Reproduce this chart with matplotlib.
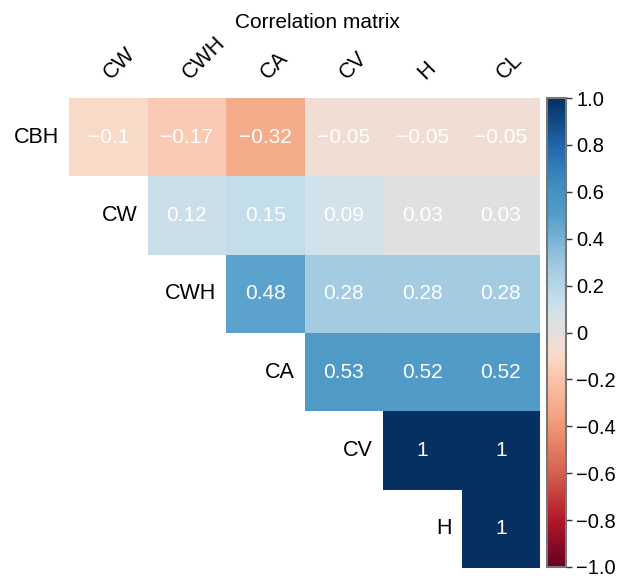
import numpy as np
import matplotlib
matplotlib.use("Agg")
import matplotlib.pyplot as plt
from matplotlib.colors import LinearSegmentedColormap, Normalize
from matplotlib import transforms

plt.rcParams['font.family'] = ['Liberation Sans', 'DejaVu Sans']

row_labels = ["CBH", "CW", "CWH", "CA", "CV", "H"]
col_labels = ["CW", "CWH", "CA", "CV", "H", "CL"]
r_cbh = [-0.1, -0.17, -0.32, -0.05, -0.05, -0.05]
r_cw = [None, 0.12, 0.15, 0.09, 0.03, 0.03]
r_cwh = [None, None, 0.48, 0.28, 0.28, 0.28]
r_ca = [None, None, None, 0.53, 0.52, 0.52]
r_cv = [None, None, None, None, 1, 1]
r_h = [None, None, None, None, None, 1]
rows = [r_cbh, r_cw, r_cwh, r_ca, r_cv, r_h]
cbar_ticks = [-1.0, -0.8, -0.6, -0.4, -0.2, 0, 0.2, 0.4, 0.6, 0.8, 1.0]
cbar_ticklabels = ["\u22121.0", "\u22120.8", "\u22120.6", "\u22120.4", "\u22120.2", "0",
                   "0.2", "0.4", "0.6", "0.8", "1.0"]

# colormap anchors (value, rgb) - RdBu-like with grey centre
anchors = [(-1.0, (103, 0, 31)), (-0.8, (178, 24, 43)), (-0.6, (214, 96, 77)),
           (-0.35, (244, 165, 130)), (-0.17, (250, 202, 180)), (-0.1, (248, 218, 201)),
           (-0.05, (240, 222, 212)), (0.0, (226, 223, 222)), (0.03, (224, 224, 224)),
           (0.09, (210, 226, 234)),
           (0.15, (196, 221, 234)), (0.28, (163, 203, 226)), (0.5, (85, 158, 202)),
           (0.65, (60, 138, 190)), (0.8, (33, 102, 172)), (1.0, (5, 48, 97))]
cmap = LinearSegmentedColormap.from_list(
    "rdbu_grey", [((v + 1) / 2, tuple(c / 255 for c in col)) for v, col in anchors])

data = np.array([[np.nan if v is None else v for v in r] for r in rows], dtype=float)
masked = np.ma.masked_invalid(data)

fig = plt.figure(figsize=(6.26, 5.79), dpi=100)
ax = fig.add_axes([69 / 626, 11 / 579, 471 / 626, 470 / 579])
cax = fig.add_axes([547 / 626, 12 / 579, 19 / 626, 469 / 579])

norm = Normalize(vmin=-1, vmax=1)
mesh = ax.pcolormesh(np.arange(len(col_labels) + 1) - 0.5,
                     np.arange(len(row_labels) + 1) - 0.5,
                     masked, cmap=cmap, norm=norm, shading='flat')
ax.set_xlim(-0.5, len(col_labels) - 0.5)
ax.set_ylim(len(row_labels) - 0.5, -0.5)
ax.set_xticks([])
ax.set_yticks([])
for s in ax.spines.values():
    s.set_visible(False)

for i, r in enumerate(rows):
    for j, v in enumerate(r):
        if v is None:
            continue
        txt = f"{v:g}".replace("-", "\u2212")
        ax.text(j, i, txt, ha='center', va='center', color='white', fontsize=15)

# row labels beside first cell
off_left = transforms.offset_copy(ax.transData, fig=fig, x=-10, y=0, units='dots')
for i, lab in enumerate(row_labels):
    ax.text(i - 0.5, i, lab, ha='right', va='center', fontsize=15.5,
            transform=off_left, color='black')

# column labels on top, rotated
off_top = transforms.offset_copy(ax.transData, fig=fig, x=-1, y=22, units='dots')
for j, lab in enumerate(col_labels):
    ax.text(j, -0.5, lab, ha='left', va='center', rotation=45, rotation_mode='anchor',
            fontsize=15.5, transform=off_top, color='black', clip_on=False)

cb = fig.colorbar(mesh, cax=cax)
cb.set_ticks(cbar_ticks)
cb.set_ticklabels(cbar_ticklabels)
cb.ax.tick_params(labelsize=14.5, length=4, width=1, color='#333333')
cb.outline.set_edgecolor('#777777')
cb.outline.set_linewidth(1.5)

fig.text(317 / 626, 1 - 28 / 579, "Correlation matrix", ha='center', va='baseline',
         fontsize=15)

fig.savefig("out.png", dpi=100)
